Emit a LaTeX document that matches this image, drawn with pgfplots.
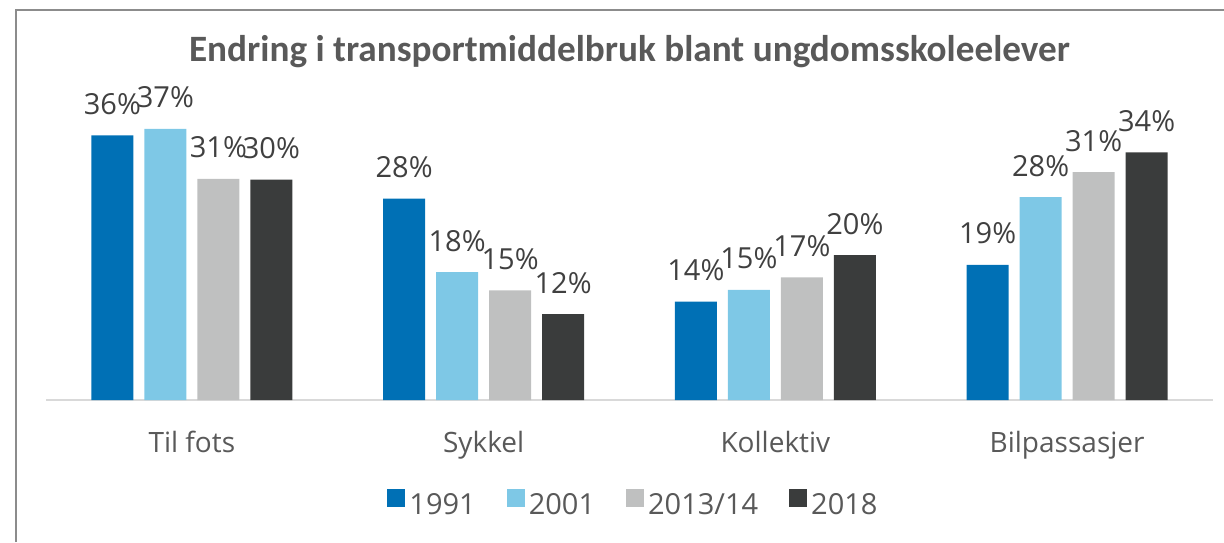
\documentclass[border=0pt]{standalone}
\usepackage{fontspec}
\setmainfont{Open Sans}
\newfontfamily\titlefont{Carlito}
\usepackage{pgfplots}
\pgfplotsset{compat=1.18}
\definecolor{cA}{HTML}{0070B5}
\definecolor{cB}{HTML}{7EC8E6}
\definecolor{cC}{HTML}{BFC0C0}
\definecolor{cD}{HTML}{3A3C3C}
\definecolor{framegray}{HTML}{8C8C8C}
\definecolor{axisgray}{HTML}{D9D9D9}
\definecolor{txtgray}{HTML}{595959}
\definecolor{lblgray}{HTML}{404040}
\begin{document}
\begin{tikzpicture}[x=1pt,y=1pt]
\useasboundingbox (0,0) rectangle (612,271);
\draw[color=framegray, line width=1pt] (8,0) -- (8,266) -- (612.5,266);
\begin{axis}[
  at={(23pt,71pt)}, anchor=south west,
  width=583.5pt, height=147pt, scale only axis,
  xmin=-0.5, xmax=3.5, ymin=0, ymax=40,
  enlargelimits=false,
  ybar=5.5pt, bar width=21pt,
  axis y line=none,
  axis x line*=bottom,
  x axis line style={-, draw=axisgray, line width=1pt},
  xtick={0,1,2,3},
  xticklabels={Til fots, Sykkel, Kollektiv, Bilpassasjer},
  major tick length=0pt,
  xticklabel style={anchor=base, yshift=-26pt, text=txtgray, font=\fontsize{14}{17}\selectfont},
  title={Endring i transportmiddelbruk blant ungdomsskoleelever},
  title style={at={(0.5,1)}, anchor=base, yshift=16.5pt, text=txtgray, font=\titlefont\bfseries\fontsize{18.6}{22}\selectfont},
  point meta=explicit symbolic,
  nodes near coords,
  every node near coord/.append style={anchor=base, yshift=10.5pt, text=lblgray, font=\fontsize{14.5}{17}\selectfont, inner sep=0pt},
  legend columns=-1,
  legend style={draw=none, at={(0.5,0)}, anchor=center, yshift=-52.5pt, xshift=2.5pt,
    font=\fontsize{14.5}{17}\selectfont, text=txtgray,
    /tikz/every even column/.append style={column sep=13.5pt}},
  legend image code/.code={\fill[#1] (0pt,-0.5pt) rectangle (9pt,8.5pt);},
]
\addplot[fill=cA, draw=none] coordinates {(0,36.0) [36\%] (1,27.4) [28\%] (2,13.4) [14\%] (3,18.4) [19\%]};
\addplot[fill=cB, draw=none] coordinates {(0,36.9) [37\%] (1,17.4) [18\%] (2,15.0) [15\%] (3,27.6) [28\%]};
\addplot[fill=cC, draw=none] coordinates {(0,30.1) [31\%] (1,14.9) [15\%] (2,16.7) [17\%] (3,31.0) [31\%]};
\addplot[fill=cD, draw=none] coordinates {(0,30.0) [30\%] (1,11.7) [12\%] (2,19.7) [20\%] (3,33.7) [34\%]};
\legend{1991, 2001, 2013/14, 2018}
\end{axis}
\end{tikzpicture}
\end{document}
